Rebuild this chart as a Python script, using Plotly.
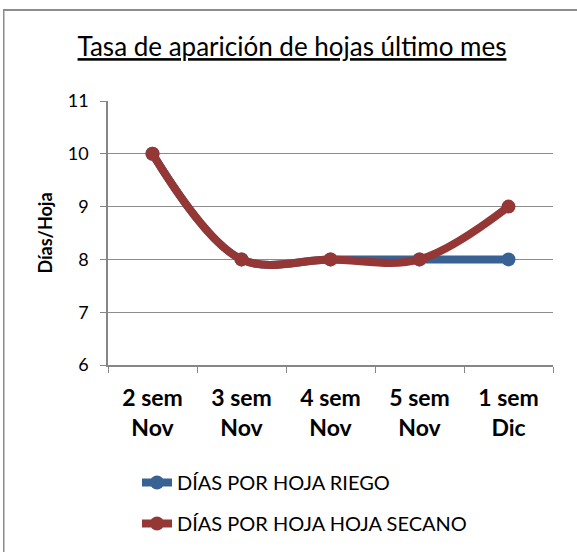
import plotly.graph_objects as go

categories = ["2 sem<br>Nov", "3 sem<br>Nov", "4 sem<br>Nov", "5 sem<br>Nov", "1 sem<br>Dic"]
riego = [10, 8, 8, 8, 8]
secano = [10, 8, 8, 8, 9]
y_ticks = [6, 7, 8, 9, 10, 11]

FONT = "Lato"
BLUE = "#386194"
RED = "#953735"

fig = go.Figure()
fig.add_trace(go.Scatter(
    x=categories, y=riego, name="DÍAS POR HOJA RIEGO", legendgroup="a",
    mode="lines+markers", line=dict(color=BLUE, width=8, shape="spline", smoothing=1.0),
    marker=dict(color=BLUE, size=14)))
fig.add_trace(go.Scatter(
    x=categories, y=secano, name="DÍAS POR HOJA HOJA SECANO", legendgroup="b",
    mode="lines+markers", line=dict(color=RED, width=8, shape="spline", smoothing=1.0),
    marker=dict(color=RED, size=14)))

W, H = 577, 552
L, R, T, B = 108, 553, 101, 365
pw, ph = R - L, B - T

def px(x):
    return (x - L) / pw

def py(y):
    return (B - y) / ph

fig.update_layout(
    width=W, height=H,
    margin=dict(l=L, r=W - R, t=T, b=H - B, autoexpand=False),
    paper_bgcolor="white", plot_bgcolor="white",
    font=dict(family=FONT, color="black"),
    title=dict(text="<u>Tasa de aparición de hojas último mes</u>",
               x=292 / W, xref="container", xanchor="center",
               y=1 - 47 / H, yanchor="middle",
               font=dict(size=26, family=FONT)),
    xaxis=dict(
        showgrid=False, showline=True, linecolor="#868686", linewidth=1.5,
        ticks="outside", tickson="boundaries", ticklen=6, tickcolor="#868686",
        tickfont=dict(size=23, family=FONT, color="black", weight="bold"),
        ticklabelstandoff=12,
        range=[-0.5, 4.5], fixedrange=True, automargin=False),
    yaxis=dict(
        range=[6, 11], tickvals=y_ticks, showgrid=True, gridcolor="#8c8c8c", gridwidth=1.2,
        showline=True, linecolor="#868686", linewidth=1.5,
        ticks="outside", ticklen=6, tickcolor="#868686",
        tickfont=dict(size=18, family=FONT, color="black"),
        ticklabelstandoff=8,
        title=dict(text="<b>Días/Hoja</b>", font=dict(size=18, family=FONT), standoff=10),
        zeroline=False, automargin=False),
    legend=dict(x=px(137), y=py(463), xanchor="left", yanchor="top",
                font=dict(size=20, family=FONT), tracegroupgap=12,
                bgcolor="rgba(0,0,0,0)"),
    showlegend=True,
    shapes=[
        dict(type="rect", xref="paper", yref="paper",
             x0=px(3), x1=px(577), y0=py(9), y1=py(11),
             line=dict(width=0), fillcolor="#8c8c8c", layer="above"),
        dict(type="rect", xref="paper", yref="paper",
             x0=px(3), x1=px(4.5), y0=py(9), y1=py(552),
             line=dict(width=0), fillcolor="#8c8c8c", layer="above"),
    ],
)

fig.write_html("out.html", config={"displayModeBar": False},
               post_script="document.body.style.margin='0';document.body.style.padding='0';")
